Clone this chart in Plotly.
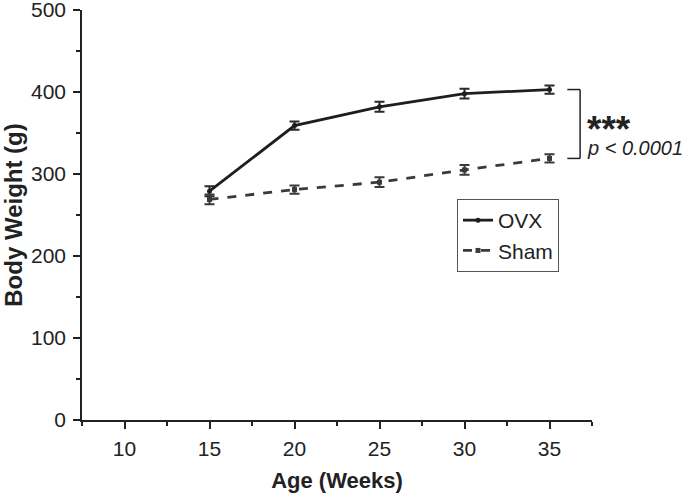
import plotly.graph_objects as go

age_weeks = [15, 20, 25, 30, 35]
ovx_weight = [279, 359, 382, 398, 403]
ovx_err = [6, 5, 6, 6, 5]
sham_weight = [269, 281, 290, 305, 319]
sham_err = [6, 5, 6, 6, 5]

x_ticks = [10, 15, 20, 25, 30, 35]
y_ticks = [0, 100, 200, 300, 400, 500]

FONT = "Liberation Sans, Arial, sans-serif"
L, R, T, B = 82, 592, 10, 420
PW, PH = R - L, B - T

fig = go.Figure()
fig.add_trace(go.Scatter(
    x=age_weeks, y=ovx_weight, name="OVX", mode="lines+markers",
    line=dict(color="#1e1e1e", width=2.8),
    marker=dict(symbol="circle", size=5, color="#1e1e1e"),
    error_y=dict(type="data", array=ovx_err, color="#2a2a2a", thickness=2, width=5),
))
fig.add_trace(go.Scatter(
    x=age_weeks, y=sham_weight, name="Sham", mode="lines+markers",
    line=dict(color="#3a3a3a", width=2.8, dash="dash"),
    marker=dict(symbol="square", size=5, color="#3a3a3a"),
    error_y=dict(type="data", array=sham_err, color="#3a3a3a", thickness=2, width=5),
))

# significance bracket
bx0, bx1 = 36.05, 36.8
top, bot = ovx_weight[-1], sham_weight[-1]
for y0, y1, x0, x1 in [(top, top, bx0, bx1), (bot, bot, bx0, bx1), (top, bot, bx1, bx1)]:
    fig.add_shape(type="line", xref="x", yref="y", x0=x0, x1=x1, y0=y0, y1=y1,
                  line=dict(color="#222222", width=1.5))

fig.add_annotation(xref="paper", yref="paper", x=(585 - L) / PW, y=(B - 107) / PH,
                   xanchor="left", yanchor="top", text="<b>***</b>", showarrow=False,
                   font=dict(family=FONT, size=37, color="#222222"))
fig.add_annotation(xref="paper", yref="paper", x=(585 - L) / PW, y=(B - 148) / PH,
                   xanchor="left", yanchor="middle", text="<i>p < 0.0001</i>", showarrow=False,
                   font=dict(family=FONT, size=20, color="#222222"))

fig.update_layout(
    width=685, height=493,
    margin=dict(l=L, r=685 - R, t=T, b=493 - B),
    paper_bgcolor="white", plot_bgcolor="white",
    font=dict(family=FONT, size=21, color="#222222"),
    showlegend=True,
    legend=dict(x=(457 - L) / PW, y=(B - 199) / PH, xanchor="left", yanchor="top",
                bgcolor="white", bordercolor="#555555", borderwidth=1,
                font=dict(family=FONT, size=21, color="#222222"),
                itemwidth=30, tracegroupgap=0),
    xaxis=dict(
        range=[7.5, 37.5], tickvals=x_ticks, ticks="outside", ticklen=7, tickwidth=1.5,
        tickcolor="#222222", showline=True, linecolor="#222222", linewidth=1.5,
        showgrid=False, zeroline=False, automargin=False, ticklabeloverflow="allow",
        ticklabelstandoff=2,
        minor=dict(dtick=2.5, tick0=7.5, ticks="outside", ticklen=4, tickwidth=1.5, tickcolor="#222222", showgrid=False),
        tickfont=dict(family=FONT, size=21),
        title=dict(text="<b>Age (Weeks)</b>", font=dict(family=FONT, size=22), standoff=18),
    ),
    yaxis=dict(
        range=[0, 500], tickvals=y_ticks, ticks="outside", ticklen=7, tickwidth=1.5,
        tickcolor="#222222", showline=True, linecolor="#222222", linewidth=1.5,
        showgrid=False, zeroline=False, automargin=False, ticklabeloverflow="allow",
        ticklabelstandoff=3,
        minor=dict(dtick=50, ticks="outside", ticklen=4, tickwidth=1.5, tickcolor="#222222", showgrid=False),
        tickfont=dict(family=FONT, size=21),
        title=dict(text="<b>Body Weight (g)</b>", font=dict(family=FONT, size=24), standoff=4),
    ),
)

fig.write_html("out.html", config={"displayModeBar": False},
               post_script="document.body.style.margin='0px';")
